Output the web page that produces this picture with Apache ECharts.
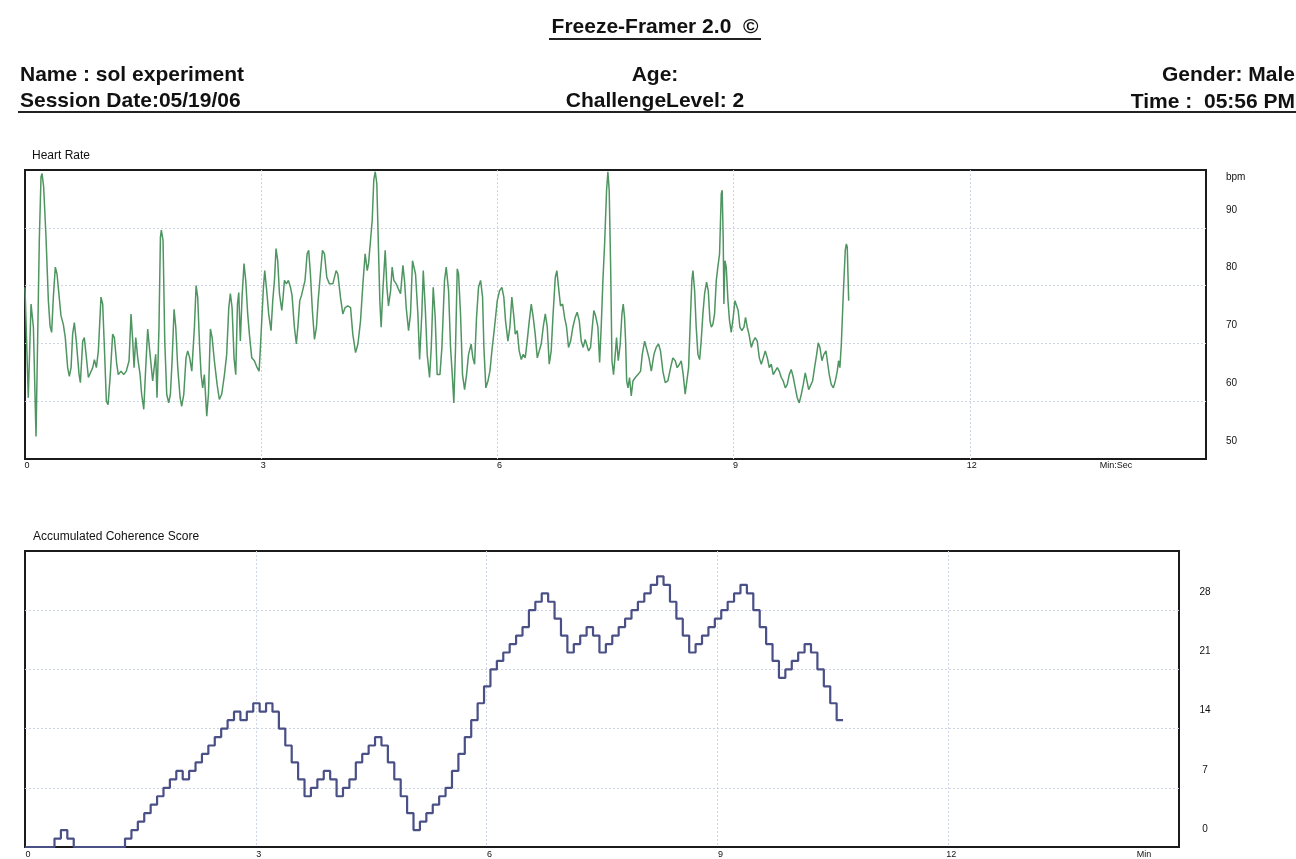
<!DOCTYPE html>
<html>
<head>
<meta charset="utf-8">
<script src="https://cdn.jsdelivr.net/npm/echarts@6/dist/echarts.min.js"></script>
<style>
html,body{margin:0;padding:0;background:#fff;}
#chart{width:1296px;height:859px;}
</style>
</head>
<body>
<div id="chart"></div>
<script>
// ---- Header texts ----
const titleText = 'Freeze-Framer 2.0  \u00A9';
const headerLeft = ['Name : sol experiment', 'Session Date:05/19/06'];
const headerCenter = ['Age:', 'ChallengeLevel: 2'];
const headerRight = ['Gender: Male', 'Time :  05:56 PM'];

// ---- Heart rate: [seconds, bpm] ----
const heartRatePoints = [
[0,79.7],[2.5,60.6],[4.6,76.8],[6.4,72.8],[8.4,53.9],[10.9,87.8],[12.2,98.8],[13.0,99.4],[14.2,97.1],[16.0,88.4],[17.8,77.4],[19.1,73.0],[20.3,71.9],[21.6,78.0],[23.1,83.2],[24.4,82.0],[25.9,82.0],[27.4,74.8],[29.2,73.3],[30.7,71.0],[32.5,65.8],[33.8,64.3],[35.1,65.8],[36.3,71.6],[37.6,73.6],[39.1,70.4],[41.2,64.6],[42.2,63.2],[44.0,70.4],[45.2,71.0],[46.8,67.5],[48.3,64.1],[49.5,63.8],[51.6,65.8],[52.9,67.2],[54.4,65.8],[55.9,68.7],[57.9,78.0],[59.2,76.8],[60.5,69.3],[62.0,60.0],[63.3,59.4],[65.0,64.6],[66.8,71.6],[68.1,71.0],[69.9,66.4],[71.1,64.6],[73.2,65.2],[75.2,64.6],[77.2,65.2],[79.3,67.0],[80.8,75.1],[82.1,70.4],[83.1,65.8],[84.4,71.0],[85.9,67.5],[87.7,64.6],[88.9,61.2],[90.5,58.6],[92.0,65.8],[93.5,72.5],[95.3,68.1],[97.3,63.5],[98.6,63.2],[99.6,68.1],[100.6,60.6],[102.1,72.8],[103.2,88.4],[103.9,89.6],[105.2,87.8],[106.5,70.4],[108.0,61.2],[109.5,59.7],[110.8,61.2],[112.1,67.0],[113.6,75.9],[114.9,72.8],[116.4,65.8],[118.2,60.6],[119.4,59.1],[121.0,61.2],[122.7,67.5],[124.0,68.7],[125.5,67.5],[127.1,65.2],[129.1,72.8],[130.4,80.0],[131.6,78.0],[133.1,69.3],[134.2,64.6],[135.4,62.3],[136.7,64.6],[138.5,57.4],[139.8,61.2],[141.3,72.5],[142.6,71.0],[144.3,67.0],[146.4,62.9],[148.1,60.3],[149.9,61.2],[152.0,64.6],[153.7,68.1],[155.3,76.2],[156.5,78.6],[157.8,76.2],[159.3,67.5],[160.6,64.6],[161.9,76.8],[162.9,78.8],[164.1,70.4],[165.4,78.0],[166.9,83.8],[168.2,80.9],[169.7,75.1],[171.0,71.6],[172.8,67.5],[174.8,67.0],[176.9,65.8],[178.4,65.2],[179.4,69.3],[180.4,73.9],[181.7,79.7],[182.7,82.6],[184.2,79.1],[185.7,75.1],[187.5,72.2],[188.8,77.4],[190.1,80.9],[191.3,86.4],[192.6,84.3],[193.9,78.6],[195.7,75.7],[196.7,78.0],[197.7,80.9],[199.2,80.3],[200.7,80.9],[202.3,79.7],[203.5,78.3],[205.3,72.8],[206.8,69.9],[208.1,73.3],[209.4,77.4],[210.7,78.3],[212.2,78.6],[213.4,80.9],[215.0,85.5],[216.2,86.1],[217.5,82.0],[219.0,75.7],[220.6,70.7],[222.1,72.8],[223.4,77.4],[225.1,82.0],[226.7,86.1],[228.2,85.5],[230.0,81.4],[232.0,80.3],
[234.6,80.3],[237.1,82.6],[238.4,82.0],[240.4,78.0],[242.2,75.1],[244.0,76.2],[246.0,76.5],[248.1,76.2],[249.8,71.6],[251.9,68.4],[253.7,69.9],[255.7,73.9],[257.5,80.3],[259.2,85.5],[260.8,82.6],[261.8,83.8],[263.3,87.8],[264.6,91.3],[265.8,98.3],[266.9,99.7],[268.1,97.7],[269.4,86.1],[270.4,77.4],[271.4,72.8],[272.7,79.1],[274.5,86.1],[275.8,79.7],[277.0,76.5],[278.6,79.1],[279.8,83.2],[281.1,80.9],[282.9,80.3],[284.6,79.4],[286.2,78.6],[288.0,83.5],[289.2,80.9],[290.5,76.2],[292.3,72.2],[293.8,75.1],[295.3,84.3],[296.3,84.6],[297.6,82.0],[299.4,75.1],[300.7,67.2],[302.4,75.1],[303.5,82.6],[305.0,76.2],[306.5,68.1],[308.3,64.1],[309.6,69.3],[311.1,79.7],[312.6,74.5],[314.1,64.6],[316.2,64.6],[317.7,69.3],[319.7,80.9],[321.0,83.2],[322.8,79.1],[324.3,69.3],[325.6,64.6],[326.8,59.7],[328.1,69.3],[329.4,82.9],[330.4,82.0],[331.9,75.1],[333.4,64.6],[335.0,62.0],[336.5,64.6],[338.0,68.1],[340.0,69.9],[341.3,67.5],[342.6,66.4],[344.1,74.5],[345.6,79.7],[347.2,80.9],[348.7,78.0],[349.7,69.3],[351.2,62.3],[352.8,63.5],[354.3,65.2],[355.8,68.7],[357.8,72.8],[359.9,77.4],[361.6,79.1],[363.4,79.7],[364.9,78.0],[366.2,73.9],[368.0,70.4],[369.5,72.8],[371.0,78.0],[372.6,74.5],[373.6,71.6],[375.1,72.2],[376.6,68.7],[378.2,67.2],[379.7,68.1],[381.2,67.5],[382.7,70.4],[384.3,73.9],[385.8,76.8],[387.3,74.5],[388.8,71.6],[390.4,67.5],[391.9,68.7],[393.4,69.9],[394.9,72.8],[396.5,75.1],[398.0,72.8],[399.5,66.4],[401.0,68.7],[402.3,74.5],[404.1,81.4],[405.3,82.6],[406.6,79.7],[408.1,76.5],[409.7,76.8],[411.2,74.5],[412.7,72.8],[414.2,69.3],[415.8,70.4],[417.5,72.8],[419.3,74.5],[420.8,75.4],[422.4,73.9],[423.9,70.4],[425.4,69.3],[426.9,70.7],[428.2,70.4],[429.5,68.7],[431.0,69.3],[432.3,72.8],[433.5,75.7],[434.8,74.8],[436.6,72.8],[437.9,66.7],[439.1,72.8],[440.4,80.9],[441.7,87.2],[443.2,96.5],[444.2,99.7],[445.2,96.5],[446.3,83.2],[447.3,67.0],[448.5,64.6],[449.8,68.1],[450.8,71.0],[452.1,67.0],[453.6,69.9],[454.9,75.1],[455.9,76.8],[456.9,74.5],[457.7,70.4],[458.5,63.5],[459.5,62.3],[460.7,64.1],[462.0,60.9],[463.3,63.5],[465.1,64.1],[467.1,64.6],[469.1,65.2],[470.4,68.1],[472.2,70.4],[473.7,70.1],[475.5,67.5],[477.3,65.2],
[479.3,68.1],[481.0,69.3],[482.8,69.9],[484.3,68.7],[486.1,65.2],[487.9,63.2],[489.9,63.5],[492.0,65.8],[493.7,67.5],[495.5,67.0],[497.0,65.8],[498.8,66.4],[500.1,67.0],[501.6,64.6],[503.1,61.2],[504.4,61.4],[505.7,65.8],[507.0,73.9],[508.2,80.9],[509.0,82.6],[510.3,79.1],[511.5,72.8],[512.8,68.1],[514.1,67.2],[515.3,70.4],[516.6,75.1],[517.9,78.6],[519.4,80.6],[520.7,79.1],[522.0,73.9],[523.0,72.8],[524.2,73.3],[525.5,75.1],[526.8,80.9],[528.0,83.2],[529.3,85.5],[530.6,95.9],[531.3,96.5],[532.1,87.8],[532.6,76.8],[533.4,84.3],[534.4,83.2],[535.7,77.4],[536.9,73.9],[538.2,71.9],[539.7,74.5],[541.0,77.4],[542.3,77.7],[543.5,75.7],[544.8,72.8],[546.3,72.2],[547.9,72.8],[549.1,74.5],[550.4,72.8],[551.7,71.6],[553.5,69.3],[555.0,70.4],[556.5,71.0],[558.0,70.4],[559.6,67.5],[561.1,66.4],[562.6,67.5],[564.1,68.7],[565.7,67.5],[567.2,65.8],[568.7,66.4],[570.2,64.6],[571.7,65.2],[573.3,65.8],[574.8,65.2],[576.3,64.1],[577.8,63.5],[579.4,62.3],[580.9,62.9],[582.4,64.6],[583.9,65.5],[585.5,64.1],[587.0,62.3],[588.5,60.6],[590.0,59.7],[591.6,61.2],[593.1,62.9],[594.6,64.9],[595.9,63.5],[597.2,62.0],[598.7,61.7],[600.2,63.5],[601.7,65.8],[603.3,68.1],[604.5,70.1],[605.8,69.3],[607.3,67.0],[608.8,68.1],[610.4,68.7],[611.4,67.0],[612.9,64.6],[614.4,62.9],[616.0,62.3],[617.5,63.5],[619.0,65.2],[620.0,67.0],[621.0,65.8],[622.1,69.9],[623.6,78.6],[625.1,86.1],[625.9,87.2],[626.6,86.7],[627.7,77.4]
];
// Short stretches drawn in red (seconds from..to)
const heartRateRedRanges = [[21.6,23.6],[169.4,171.6],[175.8,179.6],[334.3,336.6],[448.2,451.4],[456.8,459.2]];
const heartRateTicks = [50, 60, 70, 80, 90];

// ---- Accumulated coherence score: one value per 5-second step ----
const coherenceStepSeconds = 5;
const coherenceShiftSeconds = -2;
const coherenceValues = [
0,0,0,0,0, 1,2,1, 0,0,0,0,0,0,0,0,
1,2,3,4,5,6,7,8,9,8,9,10,11,12,13,14,15,16,15,16,17,16,17,16,
14,12,10,8,
6,7,8,9,8,6,7,8,
10,11,12,13,12,10,8,6,4,2,
3,4,5,6,7,9,11,13,15,17,19,21,22,23,24,25,26,28,29,30,
29,27,25,23,24,25,26,
25,23,24,25,26,27,28,29,30,31,32,
31,29,27,25,23,
24,25,26,27,28,29,30,31,
30,28,26,24,22,20,
21,22,23,24,
23,21,19,17,15
];
const coherenceTicks = [0, 7, 14, 21, 28];
const minuteTicks = [0, 3, 6, 9, 12];

// ---- build ----
const FONT = "'Liberation Sans', Arial, Helvetica, sans-serif";
const GREEN = '#4f9561';
const RED = '#e46a6a';

const coherenceData = coherenceValues.map((v, k) => [Math.max(0, k * coherenceStepSeconds + coherenceShiftSeconds), v]);
coherenceData.push([coherenceValues.length * coherenceStepSeconds + coherenceShiftSeconds, coherenceValues[coherenceValues.length - 1]]);

const hrPieces = [];
let prev = -1;
heartRateRedRanges.forEach(r => {
  hrPieces.push({ gt: prev, lte: r[0], color: GREEN });
  hrPieces.push({ gt: r[0], lte: r[1], color: RED });
  prev = r[1];
});
hrPieces.push({ gt: prev, lte: 2000, color: GREEN });

function txt(text, x, y, size, weight, align, extra) {
  return Object.assign({
    type: 'text', x: x, y: y, silent: true,
    style: {
      text: text, fontSize: size, fontWeight: weight, fontFamily: FONT, fill: '#111',
      align: align, textAlign: align, verticalAlign: 'middle', textVerticalAlign: 'middle'
    }
  }, extra || {});
}

const gridLine = { show: true, showMinLine: false, showMaxLine: false, lineStyle: { color: '#cdd4e6', width: 1, type: [2, 2] } };

const chart = echarts.init(document.getElementById('chart'), null, { renderer: 'canvas' });
chart.setOption({
  backgroundColor: '#ffffff',
  animation: false,
  graphic: [
    txt(titleText, 655, 27, 21, 'bold', 'center'),
    { type: 'line', silent: true, shape: { x1: 549, y1: 39, x2: 761, y2: 39 }, style: { stroke: '#222', lineWidth: 2 } },
    txt(headerLeft[0], 20, 75, 21, 'bold', 'left'),
    txt(headerLeft[1], 20, 101, 21, 'bold', 'left'),
    txt(headerCenter[0], 655, 75, 21, 'bold', 'center'),
    txt(headerCenter[1], 655, 101, 21, 'bold', 'center'),
    txt(headerRight[0], 1295, 75, 21, 'bold', 'right'),
    txt(headerRight[1], 1295, 102, 21, 'bold', 'right'),
    { type: 'line', silent: true, shape: { x1: 18, y1: 112, x2: 1296, y2: 112 }, style: { stroke: '#222', lineWidth: 2 } },
    txt('Heart Rate', 32, 156, 12, 'normal', 'left'),
    txt('Accumulated Coherence Score', 33, 537, 12, 'normal', 'left'),
    txt('bpm', 1226, 177, 10, 'normal', 'left'),
    txt('Min:Sec', 1116, 466, 9, 'normal', 'center'),
    txt('Min', 1144, 855, 9, 'normal', 'center')
  ],
  grid: [
    { left: 25, top: 170, width: 1181, height: 289, show: true, borderColor: '#1b1b1b', borderWidth: 2, backgroundColor: 'rgba(0,0,0,0)', containLabel: false, outerBoundsMode: 'none' },
    { left: 25, top: 551, width: 1154, height: 296, show: true, borderColor: '#1b1b1b', borderWidth: 2, backgroundColor: 'rgba(0,0,0,0)', containLabel: false, outerBoundsMode: 'none' }
  ],
  xAxis: [
    {
      gridIndex: 0, type: 'value', min: 0, max: 900, interval: 180,
      axisLine: { show: false }, axisTick: { show: false }, splitLine: gridLine,
      axisLabel: {
        margin: 2, fontSize: 9, fontFamily: FONT, color: '#111', padding: [0, 0, 0, 4],
        showMinLabel: true,
        formatter: v => (minuteTicks.indexOf(v / 60) >= 0 ? String(v / 60) : '')
      }
    },
    {
      gridIndex: 1, type: 'value', min: 0, max: 900, interval: 180,
      axisLine: { show: false }, axisTick: { show: false }, splitLine: gridLine,
      axisLabel: {
        margin: 3, fontSize: 9, fontFamily: FONT, color: '#111', padding: [0, 0, 0, 6],
        showMinLabel: true,
        formatter: v => (minuteTicks.indexOf(v / 60) >= 0 ? String(v / 60) : '')
      }
    }
  ],
  yAxis: [
    {
      gridIndex: 0, type: 'value', position: 'right', min: 50, max: 100, interval: 10,
      axisLine: { show: false }, axisTick: { show: false }, splitLine: gridLine,
      axisLabel: {
        margin: 20, fontSize: 10, fontFamily: FONT, color: '#111', align: 'left',
        verticalAlign: 'bottom', lineHeight: 36, showMinLabel: true,
        formatter: v => (heartRateTicks.indexOf(v) >= 0 ? String(v) : '')
      }
    },
    {
      gridIndex: 1, type: 'value', position: 'right', min: 0, max: 35, interval: 7,
      axisLine: { show: false }, axisTick: { show: false }, splitLine: gridLine,
      axisLabel: {
        margin: 26, fontSize: 10, fontFamily: FONT, color: '#111', align: 'center',
        verticalAlign: 'bottom', lineHeight: 36, showMinLabel: true,
        formatter: v => (coherenceTicks.indexOf(v) >= 0 ? String(v) : '')
      }
    }
  ],
  visualMap: [{
    type: 'piecewise', show: false, dimension: 0, seriesIndex: 0,
    pieces: hrPieces
  }],
  series: [
    {
      name: 'Heart Rate', type: 'line', xAxisIndex: 0, yAxisIndex: 0,
      data: heartRatePoints, showSymbol: false, symbol: 'none',
      lineStyle: { width: 1.5, color: GREEN }, z: 3
    },
    {
      name: 'Accumulated Coherence Score', type: 'line', xAxisIndex: 1, yAxisIndex: 1,
      data: coherenceData, step: 'end', showSymbol: false, symbol: 'none',
      lineStyle: { width: 2.2, color: '#4a4f86' }, z: 3
    }
  ]
});
</script>
</body>
</html>
